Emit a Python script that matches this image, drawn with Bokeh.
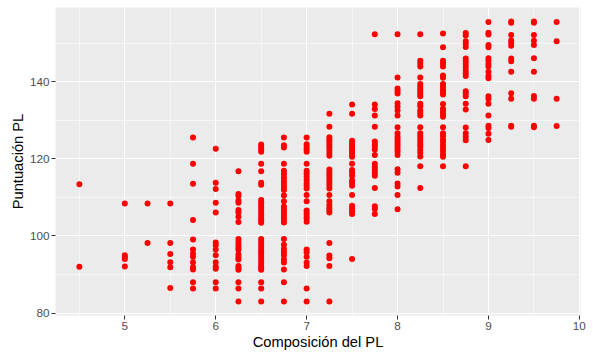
from bokeh.plotting import figure
from bokeh.models import FixedTicker, Range1d, ColumnDataSource
from bokeh.embed import file_html
from bokeh.resources import INLINE

# Puntuación PL values per "Composición del PL" level
c450 = [113.4, 92.0]
c500 = [108.4, 95.0, 94.5, 94.0, 92.1]
c525 = [108.4, 98.2]
c550 = [108.4, 98.2, 95.3, 93.2, 91.9, 86.5]
c575 = [125.5, 118.7, 113.5, 104.1, 99.1, 96.5, 95.4, 94.6, 93.2, 91.9, 91.3, 88.0, 86.4]
c600 = [122.6, 113.8, 112.2, 108.6, 106.1, 98.3, 97.6, 96.5, 95.0, 93.2, 92.1, 91.5, 88.0, 86.4]
c625 = [116.8, 110.9, 110.4, 109.2, 108.6, 106.7, 106.1, 105.0, 103.6, 99.2, 98.4, 97.7,
        97.0, 96.4, 95.2, 94.5, 93.9, 92.2, 91.7, 91.2, 88.0, 86.4, 83.0]
c650 = [123.7, 123.1, 122.5, 121.8, 118.7, 116.8, 113.8, 113.3, 109.3, 108.7, 108.1, 107.4,
        106.7, 106.0, 105.3, 104.6, 104.0, 103.4, 99.2, 98.5, 97.8, 97.1, 96.4, 95.8, 95.1,
        94.4, 93.7, 93.0, 92.3, 91.7, 91.2, 88.0, 86.4, 83.0]
c675 = [125.5, 123.5, 122.9, 118.7, 116.9, 116.0, 115.1, 114.2, 113.4, 112.6, 111.9, 110.5,
        109.0, 107.6, 107.0, 106.3, 105.5, 104.8, 104.1, 103.5, 99.2, 97.7, 96.6, 95.8, 95.0,
        93.9, 93.1, 91.3, 88.0, 83.0]
c700 = [125.5, 123.8, 123.1, 122.5, 121.8, 118.7, 116.9, 116.2, 115.4, 114.6, 113.8, 113.1,
        112.3, 110.6, 109.0, 106.6, 105.9, 105.2, 104.5, 103.7, 96.5, 95.8, 94.6, 93.1, 92.2,
        86.4, 83.0]
c725 = [131.7, 128.3, 125.6, 125.0, 124.4, 123.7, 123.0, 122.3, 121.5, 120.8, 117.2, 116.6,
        115.9, 115.3, 114.5, 113.8, 113.1, 112.3, 110.6, 109.0, 108.0, 107.3, 106.7, 106.1,
        98.2, 94.9, 94.2, 92.2, 83.0]
c750 = [134.1, 131.7, 124.7, 124.1, 123.6, 123.1, 122.6, 122.0, 121.5, 121.0, 120.5, 118.7,
        117.1, 116.4, 115.6, 114.4, 113.7, 113.0, 110.6, 107.8, 107.1, 106.4, 105.7, 94.0]
c775 = [152.3, 134.1, 132.9, 131.2, 128.3, 124.5, 123.8, 123.1, 122.4, 121.0, 118.7, 117.9,
        117.1, 116.4, 115.6, 112.4, 107.7, 107.0, 105.7]
c800 = [152.3, 141.1, 138.2, 137.6, 136.9, 134.4, 133.5, 132.5, 131.2, 128.2, 126.6, 125.8,
        125.1, 124.4, 123.8, 123.1, 122.4, 121.8, 121.0, 117.3, 116.4, 113.6, 112.8, 110.6, 106.9]
c825 = [152.3, 145.4, 144.7, 143.9, 141.1, 139.4, 138.7, 138.0, 137.4, 136.8, 136.2, 134.3,
        133.6, 132.5, 131.9, 131.2, 128.2, 126.6, 125.9, 125.2, 124.5, 123.8, 123.1, 122.3,
        121.5, 120.6, 118.1, 112.4]
c850 = [152.5, 148.9, 145.4, 144.7, 143.9, 141.6, 141.0, 139.4, 138.7, 138.0, 137.3, 136.7,
        134.2, 133.0, 132.3, 131.6, 130.9, 128.2, 126.6, 125.9, 125.1, 124.4, 123.6, 122.8,
        122.0, 121.2, 120.5, 118.1]
c875 = [152.6, 152.0, 150.5, 149.8, 149.0, 146.0, 145.3, 144.6, 143.8, 142.9, 142.2, 141.5,
        137.5, 136.9, 136.2, 134.3, 132.8, 128.1, 126.6, 125.7, 124.8, 118.1]
c900 = [155.5, 152.7, 152.2, 149.5, 148.9, 146.1, 145.4, 144.6, 143.9, 142.6, 141.5, 140.9,
        136.2, 135.6, 134.3, 131.2, 128.6, 128.0, 126.5, 124.9]
c925 = [155.6, 155.3, 152.1, 150.7, 150.0, 149.3, 146.0, 145.3, 142.6, 137.0, 135.6, 128.6, 128.3]
c950 = [155.6, 155.3, 152.1, 150.6, 149.5, 146.1, 142.6, 136.3, 135.6, 128.6, 128.2]
c975 = [155.5, 150.5, 135.6, 128.5]

x_levels = [4.5, 5.0, 5.25, 5.5, 5.75, 6.0, 6.25, 6.5, 6.75, 7.0, 7.25, 7.5, 7.75,
            8.0, 8.25, 8.5, 8.75, 9.0, 9.25, 9.5, 9.75]
columns = [c450, c500, c525, c550, c575, c600, c625, c650, c675, c700, c725, c750, c775,
           c800, c825, c850, c875, c900, c925, c950, c975]

x_ticks = [5, 6, 7, 8, 9, 10]
x_tick_labels = ["5", "6", "7", "8", "9", "10"]
x_minor = [4.5, 5.5, 6.5, 7.5, 8.5, 9.5]
y_ticks = [80, 100, 120, 140]
y_tick_labels = ["80", "100", "120", "140"]
y_minor = [90, 110, 130, 150]

xs, ys = [], []
for xv, col in zip(x_levels, columns):
    for yv in col:
        xs.append(xv)
        ys.append(yv)
src = ColumnDataSource(dict(x=xs, y=ys))

# ggplot-like 5% expansion
xmin, xmax = min(xs), max(xs)
ymin, ymax = min(ys), max(ys)
xpad = (xmax - xmin) * 0.05
ypad = (ymax - ymin) * 0.05

p = figure(width=593, height=353, output_backend="svg", toolbar_location=None,
           x_range=Range1d(xmin - xpad, xmax + xpad),
           y_range=Range1d(ymin - ypad, ymax + ypad),
           min_border_left=55, min_border_right=13, min_border_top=7, min_border_bottom=38)

p.background_fill_color = "#EBEBEB"
p.border_fill_color = "white"
p.outline_line_color = None

xt = FixedTicker(ticks=x_ticks, minor_ticks=x_minor)
yt = FixedTicker(ticks=y_ticks, minor_ticks=y_minor)
p.xaxis.ticker = xt
p.yaxis.ticker = yt
p.xgrid.ticker = xt
p.ygrid.ticker = yt
p.xaxis.major_label_overrides = {t: l for t, l in zip(x_ticks, x_tick_labels)}
p.yaxis.major_label_overrides = {t: l for t, l in zip(y_ticks, y_tick_labels)}

p.grid.grid_line_color = "white"
p.grid.grid_line_width = 1.1
p.grid.minor_grid_line_color = "white"
p.grid.minor_grid_line_width = 0.55

for ax in p.axis:
    ax.axis_line_color = None
    ax.major_tick_line_color = "#333333"
    ax.major_tick_out = 4
    ax.major_tick_in = 0
    ax.minor_tick_line_color = None
    ax.major_label_text_color = "#4D4D4D"
    ax.major_label_text_font = "Liberation Sans"
    ax.major_label_text_font_size = "11.7px"
    ax.major_label_standoff = 2
    ax.axis_label_text_font = "Liberation Sans"
    ax.axis_label_text_font_size = "14.7px"
    ax.axis_label_text_font_style = "normal"
    ax.axis_label_text_color = "black"
    ax.axis_label_standoff = 1

p.xaxis.axis_label = "Composición del PL"
p.yaxis.axis_label = "Puntuación PL"

p.scatter("x", "y", source=src, size=6, fill_color="#FF0000", line_color=None)

open("out.html", "w").write(file_html(p, INLINE))
